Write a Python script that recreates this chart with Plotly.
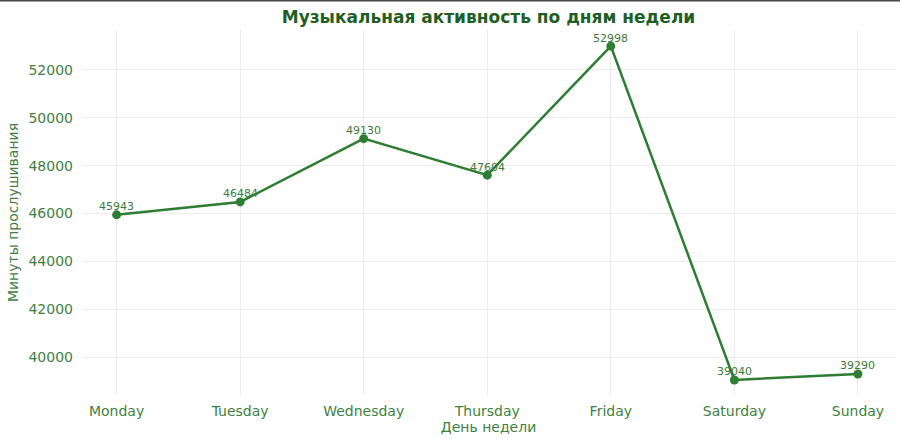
import plotly.graph_objects as go

days = ["Monday", "Tuesday", "Wednesday", "Thursday", "Friday", "Saturday", "Sunday"]
minutes = [45943, 46484, 49130, 47604, 52998, 39040, 39290]
y_ticks = [40000, 42000, 44000, 46000, 48000, 50000, 52000]

title_text = "Музыкальная активность по дням недели"
x_title = "День недели"
y_title = "Минуты прослушивания"

line_color = "#2e7d32"
text_color = "#3f7f3f"
label_color = "#3d7a3d"
title_color = "#1f5f24"
font_family = "DejaVu Sans"

fig = go.Figure()
fig.add_trace(go.Scatter(
    x=days, y=minutes, mode="lines+markers",
    line=dict(color=line_color, width=2.5),
    marker=dict(color=line_color, size=9),
    cliponaxis=False,
    showlegend=False,
))

for d, v in zip(days, minutes):
    fig.add_annotation(x=d, y=v, text=str(v), showarrow=False,
                       yanchor="middle", yshift=8,
                       font=dict(family=font_family, size=11, color=label_color))

fig.update_layout(
    width=900, height=439,
    margin=dict(l=82, r=5, t=30, b=44),
    paper_bgcolor="white", plot_bgcolor="white",
    font=dict(family=font_family, color=text_color),
    title=dict(text=title_text, xref="paper", x=0.5, xanchor="center", y=0.962, yanchor="middle",
               font=dict(family=font_family, size=17, color=title_color, weight="bold")),
    xaxis=dict(
        type="category", range=[-0.28, 6.3],
        showgrid=True, gridcolor="#ececec", gridwidth=1,
        showline=False, zeroline=False, ticks="",
        ticklabelstandoff=6,
        tickfont=dict(size=14, color=text_color),
        title=dict(text=x_title, font=dict(size=14, color=text_color), standoff=4),
    ),
    yaxis=dict(
        range=[38411, 53672],
        tickvals=y_ticks, ticktext=[str(v) for v in y_ticks],
        showgrid=True, gridcolor="#ececec", gridwidth=1,
        showline=False, zeroline=False, ticks="",
        ticklabelstandoff=8,
        tickfont=dict(size=14, color=text_color),
        title=dict(text=y_title, font=dict(size=14, color=text_color), standoff=6),
    ),
)

fig.add_shape(type="line", xref="paper", yref="paper",
              x0=-82/813, x1=1+5/813, y0=1+29.5/365, y1=1+29.5/365,
              line=dict(color="#4a4a4a", width=2))

fig.write_html("out.html", config={"displayModeBar": False},
               post_script="document.body.style.margin='0px';")
